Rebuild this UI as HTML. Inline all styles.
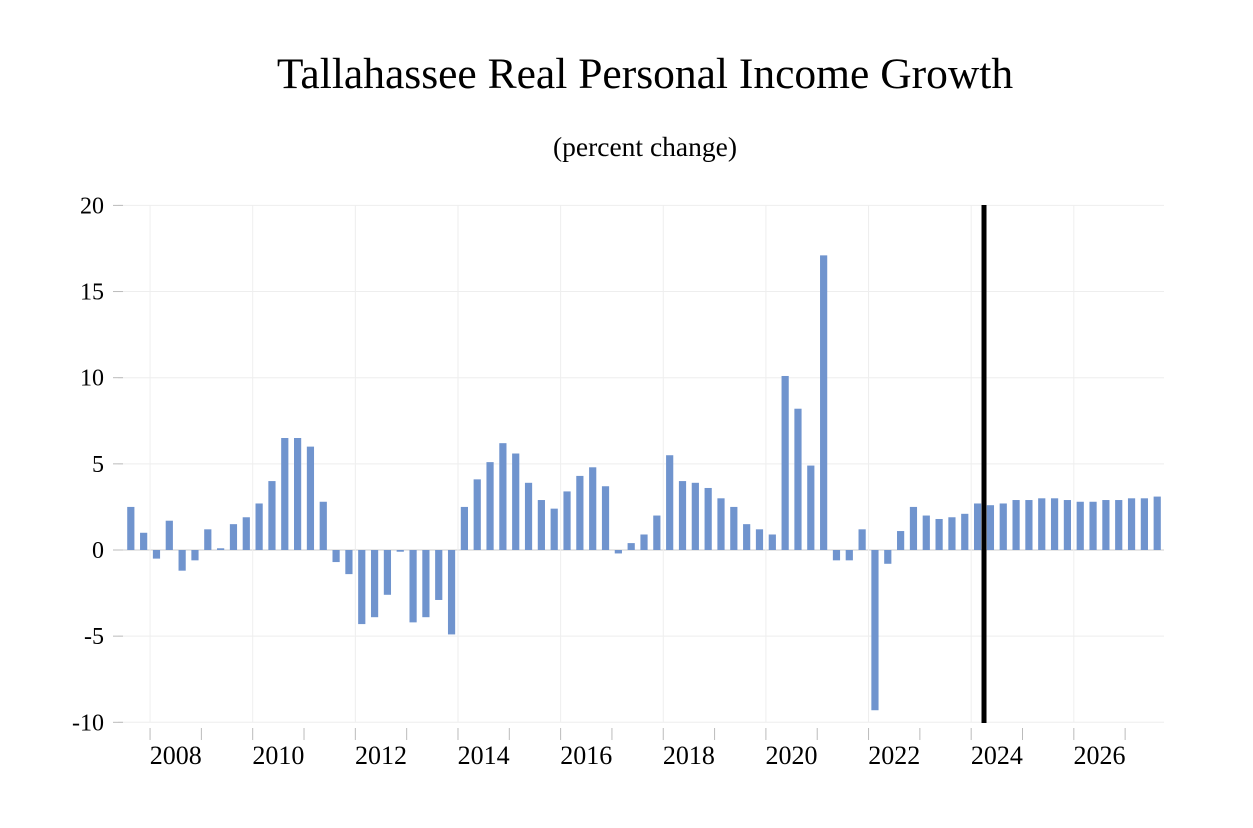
<!DOCTYPE html>
<html><head><meta charset="utf-8"><style>
body{margin:0;background:#fff;}
svg{display:block;font-family:"Liberation Serif",serif;}
</style></head><body>
<svg id="chart" width="1253" height="828" viewBox="0 0 1253 828">
<text x="645" y="88" font-size="43.5" text-anchor="middle">Tallahassee Real Personal Income Growth</text>
<text x="645" y="156" font-size="27.5" text-anchor="middle">(percent change)</text>
<g id="grid"></g><g id="bars"></g><g id="axes"></g>
</svg>
<script>
const values=[2.5,1.0,-0.5,1.7,-1.2,-0.6,1.2,0.1,1.5,1.9,2.7,4.0,6.5,6.5,6.0,2.8,-0.7,-1.4,-4.3,-3.9,-2.6,-0.1,-4.2,-3.9,-2.9,-4.9,2.5,4.1,5.1,6.2,5.6,3.9,2.9,2.4,3.4,4.3,4.8,3.7,-0.2,0.4,0.9,2.0,5.5,4.0,3.9,3.6,3.0,2.5,1.5,1.2,0.9,10.1,8.2,4.9,17.1,-0.6,-0.6,1.2,-9.3,-0.8,1.1,2.5,2.0,1.8,1.9,2.1,2.7,2.6,2.7,2.9,2.9,3.0,3.0,2.9,2.8,2.8,2.9,2.9,3.0,3.0,3.1];
const yTicks=[20,15,10,5,0,-5,-10];
const yearLabels=[2008,2010,2012,2014,2016,2018,2020,2022,2024,2026];
const startYear=2007.5, forecastStart=2024.25;
const NS="http://www.w3.org/2000/svg";
const x0=124.4,qw=12.83;
const X=t=>x0+(t-startYear)*4*qw;
const Y=v=>550-v*17.23;
function mk(tag,attrs,parent){const e=document.createElementNS(NS,tag);for(const k in attrs)e.setAttribute(k,attrs[k]);document.getElementById(parent).appendChild(e);return e;}
const L=118,R=1164;
yTicks.forEach(v=>{
 const g=mk('line',{x1:L,x2:R,y1:Y(v),y2:Y(v),stroke:v===0?'#ccc':'#eee','stroke-width':1},'grid');
 
 
 const t=mk('line',{x1:113,x2:123,y1:Y(v),y2:Y(v),stroke:'#bbb'},'axes');
 
 
 const l=mk('text',{x:104,y:Y(v)+8,'font-size':24,'text-anchor':'end'},'axes');
 l.textContent=v;
 
 
});
for(let yr=2008;yr<=2027;yr++){
 const x=X(yr);
 const t=mk('line',{x1:x,x2:x,y1:728,y2:740,stroke:'#bbb'},'axes');
 
 
 if(yr%2===0){
  const g=mk('line',{x1:x,x2:x,y1:205,y2:722,stroke:'#eee'},'grid');
  
  
 }
}
yearLabels.forEach(yr=>{
 const l=mk('text',{x:X(yr+0.5),y:764,'font-size':26,'text-anchor':'middle'},'axes');
 l.textContent=yr;
 
 
});
values.forEach((v,i)=>{
 const cx=x0+i*qw+qw/2;
 const b=mk('rect',{x:cx-3.6,width:7.2,y:Math.min(Y(v),Y(0)),height:Math.abs(Y(v)-Y(0)),fill:'#7094ce'},'bars');
 
 
});
const fl=mk('line',{x1:X(forecastStart),x2:X(forecastStart),y1:205,y2:723,stroke:'#000','stroke-width':5},'axes');


</script>
</body></html>
